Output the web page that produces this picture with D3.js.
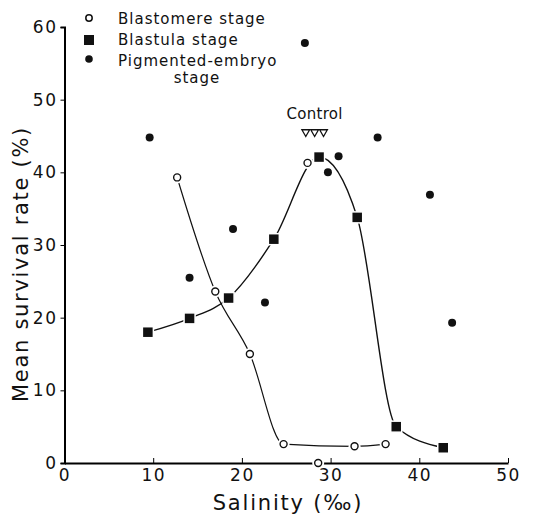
<!DOCTYPE html>
<html>
<head>
<meta charset="utf-8">
<script src="https://cdn.jsdelivr.net/npm/d3@7"></script>
<style>
  body { margin: 0; background: #fff; }
  svg text { font-family: "DejaVu Sans", sans-serif; fill: #111; }
</style>
</head>
<body>
<script>
// data (salinity in per mille, survival in %)
var blastomereX = [12.7, 17.0, 20.9, 24.7, 32.7, 36.2];
var blastomereY = [39.3, 23.6, 15.0, 2.6, 2.3, 2.6];
var blastomereExtraX = [27.4, 28.6];   // points not on the fitted line
var blastomereExtraY = [41.3, 0];

var blastulaX = [9.4, 14.1, 18.5, 23.6, 28.7, 33.0, 37.4, 42.7];
var blastulaY = [18.0, 19.9, 22.7, 30.8, 42.1, 33.8, 5.0, 2.1];

var pigmentX = [9.6, 14.1, 19.0, 22.6, 27.1, 29.7, 30.9, 35.3, 41.2, 43.7];
var pigmentY = [44.8, 25.5, 32.2, 22.1, 57.8, 40.0, 42.2, 44.8, 36.9, 19.3];

var controlX = [27.2, 28.2, 29.2];

var xTicks = [0, 10, 20, 30, 40, 50];
var yTicks = [0, 10, 20, 30, 40, 50, 60];

var w = 542, h = 517;

var svg = d3.select("body").append("svg")
  .attr("width", w)
  .attr("height", h);

var x = d3.scaleLinear().domain([0, 50]).range([64.5, 508]);
var y = d3.scaleLinear().domain([0, 60]).range([463, 27]);

// axes
var yAxis = svg.append("g")
  .attr("transform", "translate(" + x(0) + ",0)")
  .call(d3.axisLeft(y).tickValues(yTicks).tickSize(4).tickPadding(3));
yAxis.select(".domain").attr("stroke-width", 2);
yAxis.selectAll("text").style("font-size", "17px").attr("letter-spacing", 1.5);

var xAxis = svg.append("g")
  .attr("transform", "translate(0," + y(0) + ")")
  .call(d3.axisBottom(x).tickValues(xTicks).tickSizeInner(-5).tickSizeOuter(0).tickPadding(6));
xAxis.select(".domain").attr("stroke-width", 2);
xAxis.selectAll("text").style("font-size", "17px").attr("letter-spacing", 1.5);

svg.append("text")
  .attr("transform", "translate(28,264) rotate(-90)")
  .attr("text-anchor", "middle")
  .style("font-size", "21px")
  .attr("letter-spacing", 1.7)
  .text("Mean survival rate (%)");

svg.append("text")
  .attr("x", 288)
  .attr("y", 510)
  .attr("text-anchor", "middle")
  .style("font-size", "21px")
  .attr("letter-spacing", 1.8)
  .text("Salinity (‰)");

// fitted curves
var line = d3.line()
  .x(function(d) { return x(d[0]); })
  .y(function(d) { return y(d[1]); })
  .curve(d3.curveMonotoneX);

svg.append("path")
  .datum(d3.zip(blastulaX, blastulaY))
  .attr("d", line)
  .attr("fill", "none")
  .attr("stroke", "#111")
  .attr("stroke-width", 1.4);

svg.append("path")
  .datum(d3.zip(blastomereX, blastomereY))
  .attr("d", line)
  .attr("fill", "none")
  .attr("stroke", "#111")
  .attr("stroke-width", 1.2);

// markers (white halo gives the little gaps in the lines)
var allBlastomere = d3.zip(blastomereX.concat(blastomereExtraX), blastomereY.concat(blastomereExtraY));

svg.selectAll("circle.halo1")
  .data(allBlastomere)
  .enter().append("circle")
  .attr("cx", function(d) { return x(d[0]); })
  .attr("cy", function(d) { return y(d[1]); })
  .attr("r", 6)
  .attr("fill", "#fff");

svg.selectAll("circle.blastomere")
  .data(allBlastomere)
  .enter().append("circle")
  .attr("cx", function(d) { return x(d[0]); })
  .attr("cy", function(d) { return y(d[1]); })
  .attr("r", 3.5)
  .attr("fill", "#fff")
  .attr("stroke", "#111")
  .attr("stroke-width", 1.4);

svg.selectAll("rect.blastula")
  .data(d3.zip(blastulaX, blastulaY))
  .enter().append("rect")
  .attr("x", function(d) { return x(d[0]) - 5.5; })
  .attr("y", function(d) { return y(d[1]) - 5.5; })
  .attr("width", 11)
  .attr("height", 11)
  .attr("fill", "#111")
  .attr("stroke", "#fff")
  .attr("stroke-width", 1.5);

svg.selectAll("circle.pigment")
  .data(d3.zip(pigmentX, pigmentY))
  .enter().append("circle")
  .attr("cx", function(d) { return x(d[0]); })
  .attr("cy", function(d) { return y(d[1]); })
  .attr("r", 4)
  .attr("fill", "#111");

// control
svg.append("text")
  .attr("x", x(28.2))
  .attr("y", 119)
  .attr("text-anchor", "middle")
  .style("font-size", "15px")
  .attr("letter-spacing", 0.3)
  .text("Control");

svg.selectAll("path.control")
  .data(controlX)
  .enter().append("path")
  .attr("d", d3.symbol(d3.symbolTriangle, 26))
  .attr("transform", function(d) { return "translate(" + x(d) + ",132) rotate(180)"; })
  .attr("fill", "#fff")
  .attr("stroke", "#111")
  .attr("stroke-width", 1.3);

// legend
var lg = svg.append("g");
lg.append("circle").attr("cx", 89).attr("cy", 18).attr("r", 3.2)
  .attr("fill", "#fff").attr("stroke", "#111").attr("stroke-width", 1.5);
lg.append("rect").attr("x", 84).attr("y", 35).attr("width", 10).attr("height", 10).attr("fill", "#111");
lg.append("circle").attr("cx", 89).attr("cy", 59).attr("r", 3.8).attr("fill", "#111");

var legendLabels = ["Blastomere stage", "Blastula stage", "Pigmented-embryo"];
lg.selectAll("text.lab")
  .data(legendLabels)
  .enter().append("text")
  .attr("x", 118)
  .attr("y", function(d, i) { return 24 + i * 21; })
  .style("font-size", "15px")
  .attr("letter-spacing", 1)
  .text(function(d) { return d; });
lg.append("text")
  .attr("x", 197)
  .attr("y", 83)
  .attr("text-anchor", "middle")
  .style("font-size", "15px")
  .attr("letter-spacing", 1)
  .text("stage");
</script>
</body>
</html>
